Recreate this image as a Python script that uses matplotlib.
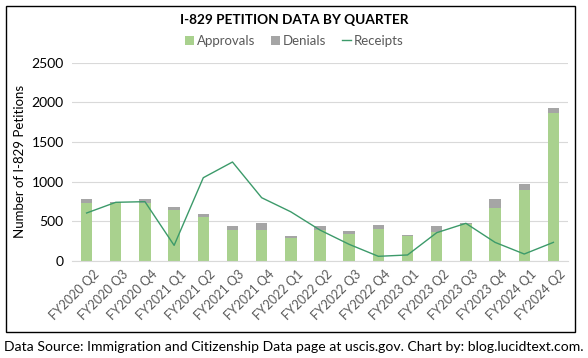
import matplotlib

matplotlib.use("Agg")
import matplotlib.pyplot as plt  # noqa: E402
import matplotlib.transforms as mtransforms  # noqa: E402
import numpy as np  # noqa: E402
from matplotlib.patches import Rectangle  # noqa: E402

quarters = [
    "FY2020 Q2", "FY2020 Q3", "FY2020 Q4",
    "FY2021 Q1", "FY2021 Q2", "FY2021 Q3", "FY2021 Q4",
    "FY2022 Q1", "FY2022 Q2", "FY2022 Q3", "FY2022 Q4",
    "FY2023 Q1", "FY2023 Q2", "FY2023 Q3", "FY2023 Q4",
    "FY2024 Q1", "FY2024 Q2",
]
approvals = [730, 730, 730, 640, 560, 390, 390, 290, 390, 335, 405, 310, 360, 465, 670, 895, 1870]
denials = [50, 15, 50, 35, 35, 55, 95, 30, 50, 45, 50, 20, 85, 10, 110, 75, 60]
receipts = [605, 740, 748, 197, 1050, 1248, 798, 620, 390, 210, 59, 76, 357, 475, 235, 88, 235]

GREEN = "#A9D18E"
GRAY = "#A5A5A5"
LINE = "#3C9A6A"
TEXT = "#595959"

plt.rcParams["font.family"] = ["Lato", "DejaVu Sans"]

fig = plt.figure(figsize=(5.88, 3.58), dpi=100)
ax = fig.add_axes([72 / 588, 1 - 261 / 358, 496 / 588, (261 - 62.7) / 358])

x = np.arange(len(quarters))
width = 0.39
b1 = ax.bar(x, approvals, width, color=GREEN, label="Approvals", zorder=2)
b2 = ax.bar(x, denials, width, bottom=approvals, color=GRAY, label="Denials", zorder=2)
(ln,) = ax.plot(x, receipts, color=LINE, lw=1.0, label="Receipts", zorder=3)

ax.set_xlim(-0.5, len(quarters) - 0.5)
ax.set_ylim(0, 2500)
ax.set_yticks(range(0, 2501, 500))
ax.grid(axis="y", color="#D9D9D9", lw=0.8, zorder=0)
for s in ("top", "right", "left"):
    ax.spines[s].set_visible(False)
ax.spines["bottom"].set_color("#D9D9D9")
ax.tick_params(length=0, labelsize=10, colors="black")
ax.tick_params(axis="y", pad=6)
ax.set_xticks(x)
ax.set_xticklabels(quarters, rotation=45, ha="right", rotation_mode="anchor",
                   fontsize=9, color=TEXT)
shift = mtransforms.ScaledTranslation(6 / 100, -2 / 100, fig.dpi_scale_trans)
for lbl in ax.get_xticklabels():
    lbl.set_transform(lbl.get_transform() + shift)
ax.set_ylabel("Number of I-829 Petitions", fontsize=9.5, color="black", labelpad=4)

fig.text(0.5, 1 - 20 / 358, "I-829 PETITION DATA BY QUARTER", ha="center", va="center",
         fontsize=9.8, fontweight="bold", color="black")
fig.legend([b1, b2, ln], ["Approvals", "Denials", "Receipts"], loc="center",
           bbox_to_anchor=(0.5, 1 - 41 / 358), ncol=3, frameon=False,
           fontsize=9.5, handlelength=0.7, handleheight=0.7, handletextpad=0.2,
           columnspacing=1.2, labelcolor=TEXT)

fig.patches.append(Rectangle((6 / 588, 1 - 332 / 358), 569 / 588, 326 / 358,
                             transform=fig.transFigure, fill=False, ec="black", lw=1.0))
fig.text(0.5, 1 - 347 / 358,
         "Data Source: Immigration and Citizenship Data page at uscis.gov. Chart by: blog.lucidtext.com.",
         ha="center", va="center", fontsize=10.1, color="black")

fig.savefig("out.png", dpi=100)
